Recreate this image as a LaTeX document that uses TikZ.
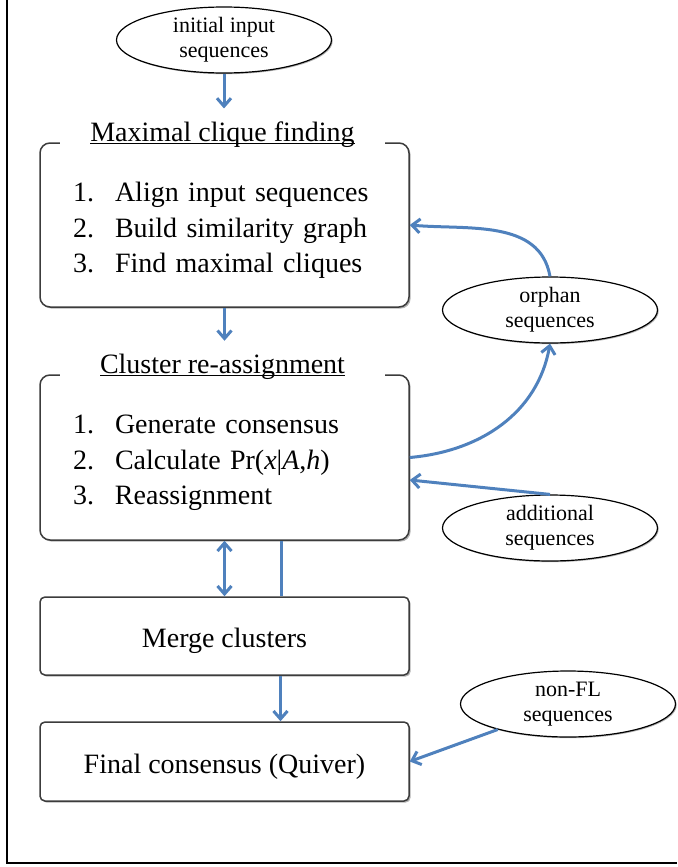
\documentclass[tikz,border=0pt]{standalone}
\usepackage{fontspec}
\setmainfont{Liberation Serif}
\usetikzlibrary{arrows.meta,shapes.geometric,shadows}

\definecolor{flowblue}{RGB}{79,129,189}
\definecolor{boxgray}{RGB}{60,60,60}
\newcommand{\hdrul}[1]{\setbox0\hbox{#1}\rlap{\rule[-1.6pt]{\wd0}{0.7pt}}\box0}

\begin{document}
\begin{tikzpicture}[x=0.5pt,y=0.5pt,
  every node/.append style={inner sep=0pt},
  stage/.style={draw=boxgray,line width=0.75pt,fill=white,rounded corners=5pt,
    minimum width=184.5pt,align=center,font=\fontsize{14}{17.75}\selectfont,
    execute at begin node=\rule{0pt}{15pt},
    drop shadow={shadow xshift=0.8pt,shadow yshift=-0.8pt,opacity=0.3,fill=black}},
  steps/.style={stage,align=left,text width=151.5pt},
  hdr/.style={fill=white,minimum width=162.5pt,inner ysep=2pt,outer ysep=4.4pt,
    anchor=base,font=\fontsize{14}{17}\selectfont},
  seqs/.style={ellipse,draw,line width=0.6pt,fill=white,minimum width=107.5pt,
    minimum height=33pt,align=center,font=\fontsize{11}{12.5}\selectfont,
    drop shadow={shadow xshift=0.6pt,shadow yshift=-0.6pt,opacity=0.3,fill=black}},
  flow/.style={draw=flowblue,line width=1.5pt,-{Straight Barb[length=4pt,width=7pt]}},
  both/.style={draw=flowblue,line width=1.5pt,{Straight Barb[length=4pt,width=7pt]}-{Straight Barb[length=4pt,width=7pt]}},
  plain/.style={draw=flowblue,line width=1.5pt}
]
\useasboundingbox (0,0) rectangle (677,-867);
\draw [line width=1pt] (7,0) -- (7,-863) -- (677,-863);

\node [seqs] (init) at (224,-40) {initial input\\sequences};
\node [steps,minimum height=82pt] (box1) at (224.5,-225)
  {\makebox[21pt][l]{1.}Align input sequences\\
   \makebox[21pt][l]{2.}Build similarity graph\\
   \makebox[21pt][l]{3.}Find maximal cliques};
\node [hdr] (hdr1) at (222.5,-141) {\hdrul{Maximal clique finding}};

\node [steps,minimum height=82.5pt] (box2) at (224.5,-457.5)
  {\makebox[21pt][l]{1.}Generate consensus\\
   \makebox[21pt][l]{2.}Calculate Pr(\textit{x}|\textit{A},\textit{h})\\
   \makebox[21pt][l]{3.}Reassignment};
\node [hdr] (hdr2) at (222.5,-373) {\hdrul{Cluster re-assignment}};

\node [stage,rounded corners=2.5pt,minimum height=39pt] (box3) at (224.5,-636) {Merge clusters};
\node [stage,rounded corners=2.5pt,minimum height=39.5pt] (box4) at (224.5,-761.5) {Final consensus (Quiver)};

\node [seqs] (orphan) at (550,-310) {orphan\\sequences};
\node [seqs] (addl) at (550,-528) {additional\\sequences};
\node [seqs] (nonfl) at (568,-704) {non-FL\\sequences};

\draw [flow] (init.south) -- (init.south |- hdr1.north);
\draw [flow] (box1.south) -- (box1.south |- hdr2.north);
\draw [both] (box2.south) -- (box3.north);
\draw [plain] ([xshift=28.25pt]box2.south) -- ([xshift=28.25pt]box3.north);
\draw [flow] ([xshift=28pt]box3.south) -- ([xshift=28pt]box4.north);
\draw [flow] (orphan.north) to[out=100,in=-5] (box1.east);
\draw [flow] (box2.east) to[out=5,in=-100] (orphan.south);
\draw [flow] (addl.north) -- ([yshift=-11.25pt]box2.east);
\draw [flow] (nonfl) -- (box4.east);
\end{tikzpicture}
\end{document}
